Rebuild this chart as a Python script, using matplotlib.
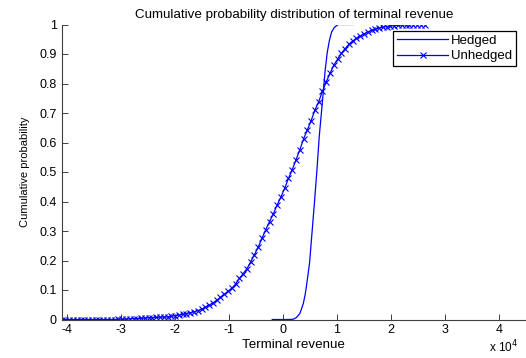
import numpy as np
import matplotlib.pyplot as plt

plt.rcParams['font.family'] = ['Liberation Sans', 'DejaVu Sans']

# terminal revenue in units of 1e4
unhedged_x = [-4.10, -4.03, -3.96, -3.89, -3.82, -3.75, -3.68, -3.61, -3.54, -3.47,
              -3.40, -3.33, -3.26, -3.19, -3.12, -3.05, -2.98, -2.91, -2.84, -2.77,
              -2.70, -2.63, -2.56, -2.49, -2.42, -2.35, -2.28, -2.21, -2.14, -2.07,
              -2.00, -1.93, -1.86, -1.79, -1.72, -1.65, -1.58, -1.51, -1.44, -1.37,
              -1.30, -1.23, -1.16, -1.09, -1.02, -0.95, -0.88, -0.81, -0.74, -0.67,
              -0.60, -0.53, -0.46, -0.39, -0.32, -0.25, -0.18, -0.11, -0.04, 0.03,
              0.10, 0.17, 0.24, 0.31, 0.38, 0.45, 0.52, 0.59, 0.66, 0.73,
              0.80, 0.87, 0.94, 1.01, 1.08, 1.15, 1.22, 1.29, 1.36, 1.43,
              1.50, 1.57, 1.64, 1.71, 1.78, 1.85, 1.92, 1.99, 2.06, 2.13,
              2.20, 2.27, 2.34, 2.41, 2.48, 2.55, 2.62]
unhedged_p = [0.000, 0.000, 0.000, 0.000, 0.000, 0.000, 0.000, 0.000, 0.000, 0.000,
              0.000, 0.000, 0.000, 0.000, 0.000, 0.001, 0.001, 0.001, 0.002, 0.003,
              0.003, 0.004, 0.005, 0.006, 0.006, 0.007, 0.008, 0.008, 0.009, 0.011,
              0.013, 0.015, 0.017, 0.020, 0.023, 0.026, 0.030, 0.035, 0.041, 0.048,
              0.056, 0.065, 0.075, 0.085, 0.095, 0.106, 0.120, 0.139, 0.155, 0.172,
              0.195, 0.220, 0.245, 0.275, 0.305, 0.332, 0.358, 0.388, 0.415, 0.445,
              0.478, 0.508, 0.541, 0.575, 0.612, 0.643, 0.674, 0.710, 0.738, 0.774,
              0.806, 0.834, 0.862, 0.882, 0.902, 0.918, 0.933, 0.944, 0.953, 0.961,
              0.968, 0.975, 0.980, 0.984, 0.988, 0.991, 0.993, 0.995, 0.996, 0.997,
              0.998, 0.999, 0.999, 1.000, 1.000, 1.000, 1.000]

hedged_x = [-0.20, 0.10, 0.19, 0.25, 0.31, 0.34, 0.375, 0.41, 0.44, 0.49, 0.53,
            0.58, 0.625, 0.67, 0.71, 0.745, 0.78, 0.82, 0.86, 0.90, 0.95, 1.02, 1.30]
hedged_p = [0.000, 0.000, 0.001, 0.007, 0.020, 0.035, 0.054, 0.085, 0.122, 0.190, 0.280,
            0.393, 0.500, 0.620, 0.700, 0.770, 0.845, 0.907, 0.947, 0.975, 0.990, 1.000, 1.000]

xticks = [-4, -3, -2, -1, 0, 1, 2, 3, 4]
yticks = [0, 0.1, 0.2, 0.3, 0.4, 0.5, 0.6, 0.7, 0.8, 0.9, 1]
ytick_labels = ['0', '0.1', '0.2', '0.3', '0.4', '0.5', '0.6', '0.7', '0.8', '0.9', '1']

W, H = 526, 358
fig = plt.figure(figsize=(W / 100, H / 100), dpi=100)
ax = fig.add_axes([61.7 / W, 38.5 / H, (W - 61.7) / W, 295 / H])

ax.plot(hedged_x, hedged_p, color='blue', lw=0.9, label='Hedged')
ax.plot(unhedged_x, unhedged_p, color='blue', lw=0.9, marker='x', ms=4.5, mew=0.8,
        label='Unhedged')

ax.set_xlim(-4.1, 4.5)
ax.set_ylim(0, 1)
ax.set_xticks(xticks)
ax.set_xticklabels([str(t) for t in xticks])
ax.set_yticks(yticks)
ax.set_yticklabels(ytick_labels)

for s in ['top', 'right']:
    ax.spines[s].set_visible(False)
for s in ['left', 'bottom']:
    ax.spines[s].set_color('#404040')
    ax.spines[s].set_linewidth(0.8)
ax.tick_params(direction='in', length=4, width=0.7, colors='#404040',
               labelcolor='black', labelsize=9)

ax.set_title('Cumulative probability distribution of terminal revenue', fontsize=9.6, pad=5)
ax.set_xlabel('Terminal revenue', fontsize=9.6, labelpad=2)
ax.set_ylabel('Cumulative probability', fontsize=8, labelpad=7)
fig.text(489 / W, 1 - 352 / H, r'x 10$^4$', fontsize=8.5)

leg = ax.legend(loc='upper right', bbox_to_anchor=(516 / W, 1 - 30.7 / H),
                bbox_transform=fig.transFigure, borderaxespad=0, fancybox=False,
                framealpha=1, edgecolor='black', fontsize=9.5, handlelength=3.9,
                handletextpad=0.2, labelspacing=0.25, borderpad=0.3)
leg.get_frame().set_linewidth(0.9)

fig.savefig('out.png', dpi=100)
